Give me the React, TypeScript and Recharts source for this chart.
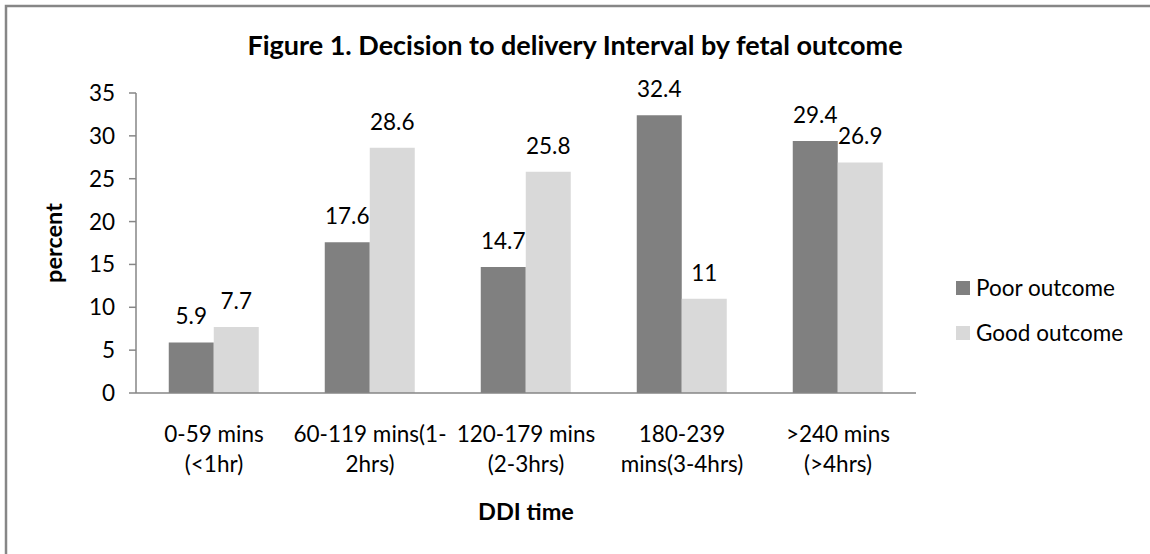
import { BarChart, Bar, XAxis, YAxis, Legend, LabelList, Label } from 'recharts';

const categories = [
  '0-59 mins\n(<1hr)',
  '60-119 mins(1-\n2hrs)',
  '120-179 mins\n(2-3hrs)',
  '180-239\nmins(3-4hrs)',
  '>240 mins\n(>4hrs)',
];
const poorOutcome = [5.9, 17.6, 14.7, 32.4, 29.4];
const goodOutcome = [7.7, 28.6, 25.8, 11, 26.9];
const yTicks = [0, 5, 10, 15, 20, 25, 30, 35];

const data = categories.map((c, i) => ({ name: c, poor: poorOutcome[i], good: goodOutcome[i] }));

const FONT = 'Lato, "Open Sans", sans-serif';
const AXIS = '#868686';
const FS = 22.5;

function CategoryTick(props: any) {
  const { x, y, payload } = props;
  const lines = String(payload.value).split('\n');
  return (
    <text x={x} y={y} textAnchor="middle" fill="#000" fontFamily={FONT} fontSize={FS}>
      {lines.map((l, i) => (
        <tspan key={i} x={x} y={y + 49 + i * 30}>
          {l}
        </tspan>
      ))}
    </text>
  );
}

function LegendBox() {
  const items = [
    { label: 'Poor outcome', color: '#808080' },
    { label: 'Good outcome', color: '#d9d9d9' },
  ];
  return (
    <div style={{ fontFamily: FONT, fontSize: FS, color: '#000' }}>
      {items.map((it) => (
        <div key={it.label} style={{ display: 'flex', alignItems: 'center', height: 45 }}>
          <span style={{ width: 14, height: 14, background: it.color, marginRight: 6, flex: 'none' }} />
          <span>{it.label}</span>
        </div>
      ))}
    </div>
  );
}

export default function App() {
  return (
    <div style={{ position: 'fixed', left: 0, top: 0, width: 1150, height: 554, overflow: 'hidden', background: '#fff' }}>
      <div
        style={{
          position: 'absolute',
          left: 0,
          top: 29,
          width: 1150,
          textAlign: 'center',
          fontFamily: FONT,
          fontWeight: 'bold',
          fontSize: 27,
          lineHeight: '32px',
        }}
      >
        Figure 1. Decision to delivery Interval by fetal outcome
      </div>
      <div style={{ position: 'absolute', left: 0, top: 0 }}>
        <BarChart
          width={1150}
          height={554}
          data={data}
          margin={{ top: 93, right: 234, left: 0, bottom: 31 }}
          barCategoryGap="21%"
          barGap={0}
        >
          <XAxis
            dataKey="name"
            height={130}
            axisLine={{ stroke: AXIS, strokeWidth: 1.5 }}
            tickLine={false}
            tickSize={0}
            tickMargin={0}
            interval={0}
            tick={<CategoryTick />}
          >
            <Label
              value="DDI time"
              position="insideBottom"
              offset={3}
              fontFamily={FONT}
              fontWeight="bold"
              fontSize={23.5}
              fill="#000"
            />
          </XAxis>
          <YAxis
            width={136}
            domain={[0, 35]}
            ticks={yTicks}
            interval={0}
            axisLine={{ stroke: AXIS, strokeWidth: 1.5 }}
            tickLine={{ stroke: AXIS, strokeWidth: 1.5 }}
            tickSize={7}
            tickMargin={14}
            tick={{ fill: '#000', fontFamily: FONT, fontSize: FS }}
          >
            <Label
              content={(p: any) => {
                const vb = p.viewBox;
                const cx = vb.x + 62;
                const cy = vb.y + vb.height / 2;
                return (
                  <text
                    x={cx}
                    y={cy}
                    textAnchor="middle"
                    transform={`rotate(-90, ${cx}, ${cy})`}
                    fontFamily={FONT}
                    fontWeight="bold"
                    fontSize={23.5}
                    fill="#000"
                  >
                    percent
                  </text>
                );
              }}
            />
          </YAxis>
          <Legend
            layout="vertical"
            align="center"
            verticalAlign="middle"
            content={<LegendBox />}
            wrapperStyle={{ left: 956, top: 265, width: 190 }}
          />
          <Bar dataKey="poor" name="Poor outcome" fill="#808080" isAnimationActive={false}>
            <LabelList dataKey="poor" position="top" offset={18} fill="#000" fontFamily={FONT} fontSize={FS} />
          </Bar>
          <Bar dataKey="good" name="Good outcome" fill="#d9d9d9" isAnimationActive={false}>
            <LabelList dataKey="good" position="top" offset={18} fill="#000" fontFamily={FONT} fontSize={FS} />
          </Bar>
        </BarChart>
      </div>
      {/* chart frame, only the top and left edges fall inside the picture */}
      <svg
        width={1150}
        height={554}
        style={{ position: 'absolute', left: 0, top: 0, zIndex: 5, pointerEvents: 'none' }}
      >
        <path d="M6 554 L6 6 L1150 6" fill="none" stroke={AXIS} strokeWidth={2.5} />
      </svg>
    </div>
  );
}
